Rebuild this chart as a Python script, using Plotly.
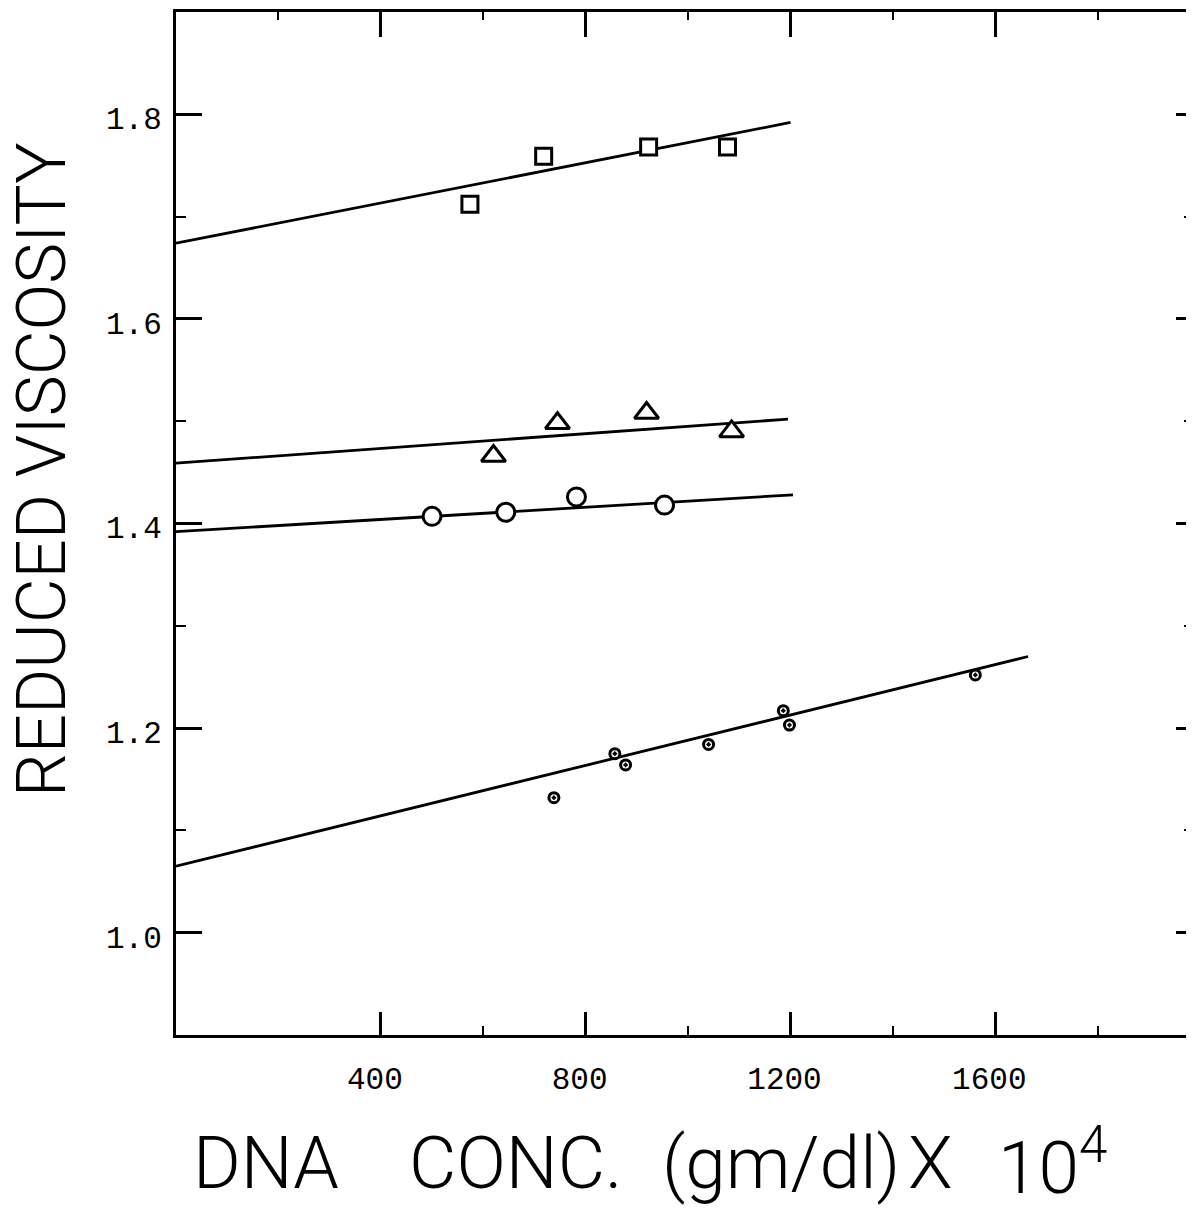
import plotly.graph_objects as go

# ---- data ----
sq_x = [574, 718, 923, 1077]
sq_y = [1.712, 1.759, 1.768, 1.768]
sq_fit_x = [0, 1200]
sq_fit_y = [1.674, 1.792]

tri_x = [620, 745, 919, 1085]
tri_y = [1.466, 1.498, 1.508, 1.490]
tri_fit_x = [0, 1195]
tri_fit_y = [1.459, 1.502]

circ_x = [500, 644, 782, 954]
circ_y = [1.407, 1.411, 1.426, 1.418]
circ_fit_x = [0, 1205]
circ_fit_y = [1.392, 1.428]

dot_x = [738, 857, 878, 1040, 1186, 1198, 1561]
dot_y = [1.132, 1.175, 1.164, 1.184, 1.217, 1.203, 1.252]
dot_fit_x = [0, 1664]
dot_fit_y = [1.065, 1.270]

x_major = [400, 800, 1200, 1600]
x_minor_bottom = [600, 1000, 1400, 1800]
x_minor_top = [200, 600, 1000, 1400, 1800]
y_major = [1.0, 1.2, 1.4, 1.6, 1.8]
y_major_text = ["1.0", "1.2", "1.4", "1.6", "1.8"]
y_minor = [1.1, 1.3, 1.5, 1.7]

x_title_parts = ["DNA", "CONC.", "(gm/dl)", "X", "10<sup>4</sup>"]
y_title = "REDUCED VISCOSITY"

X_RANGE = [0, 1988]
Y_RANGE = [0.9, 1.9]

OFF = 8  # page body margin of the html page
W, H = 1194 - OFF, 1211 - OFF
ML, MT = 176 - OFF, 12 - OFF
PLOT_BOTTOM = 1035 - OFF
MB = H - PLOT_BOTTOM
PW = W - ML
PH = H - MT - MB


def px_x(p):
    return (p - OFF - ML) / PW


def px_y(p):
    return (PLOT_BOTTOM - (p - OFF)) / PH


fig = go.Figure()

line_style = dict(color="black", width=2.8)

for fx, fy in [(sq_fit_x, sq_fit_y), (tri_fit_x, tri_fit_y),
               (circ_fit_x, circ_fit_y), (dot_fit_x, dot_fit_y)]:
    fig.add_trace(go.Scatter(x=fx, y=fy, mode="lines", line=line_style,
                             showlegend=False, hoverinfo="skip"))

fig.add_trace(go.Scatter(x=sq_x, y=sq_y, mode="markers", showlegend=False,
                         marker=dict(symbol="square", size=16, color="white",
                                     line=dict(color="black", width=3))))
fig.add_trace(go.Scatter(x=tri_x, y=tri_y, mode="markers", showlegend=False,
                         marker=dict(symbol="triangle-up", size=21, color="white",
                                     line=dict(color="black", width=3))))
fig.add_trace(go.Scatter(x=circ_x, y=circ_y, mode="markers", showlegend=False,
                         marker=dict(symbol="circle", size=18, color="white",
                                     line=dict(color="black", width=3))))
fig.add_trace(go.Scatter(x=dot_x, y=dot_y, mode="markers", showlegend=False,
                         marker=dict(symbol="circle-dot", size=10, color="white",
                                     line=dict(color="black", width=3))))

# invisible trace to bind the mirror axes
fig.add_trace(go.Scatter(x=[X_RANGE[0]], y=[Y_RANGE[0]], xaxis="x2", yaxis="y2",
                         mode="markers", marker=dict(opacity=0), showlegend=False,
                         hoverinfo="skip"))

tick_font = dict(family="Liberation Mono", size=31, color="black")
title_font = dict(family="Roboto", size=73, color="black", weight=300)

x_title_center = [266, 516, 781, 930, 1052]
annotations = [
    dict(text=y_title, textangle=-90,
         xref="paper", yref="paper", x=px_x(41), y=px_y(470),
         xanchor="center", yanchor="middle", showarrow=False,
         font=dict(family="Roboto", size=69, color="black", weight=300)),
]
for txt, cx in zip(x_title_parts, x_title_center):
    annotations.append(dict(text=txt, xref="paper", yref="paper",
                            x=px_x(cx), y=px_y(1163),
                            xanchor="center", yanchor="middle", showarrow=False,
                            font=title_font))

fig.update_layout(
    width=W, height=H,
    margin=dict(l=ML, r=0, t=MT, b=MB, autoexpand=False),
    paper_bgcolor="white", plot_bgcolor="white",
    xaxis=dict(range=X_RANGE, showgrid=False, zeroline=False, automargin=False,
               showline=True, linewidth=3, linecolor="black",
               ticks="inside", ticklen=23, tickwidth=3, tickcolor="black",
               tickvals=x_major, ticktext=[str(v) for v in x_major],
               tickfont=tick_font, ticklabelstandoff=14, ticklabelshift=-6,
               minor=dict(tickvals=x_minor_bottom, ticks="inside", ticklen=9,
                          tickwidth=2, tickcolor="black", showgrid=False)),
    xaxis2=dict(range=X_RANGE, overlaying="x", side="top", anchor="y",
                showgrid=False, zeroline=False, automargin=False,
                showline=True, linewidth=3, linecolor="black",
                ticks="inside", ticklen=25, tickwidth=2.5, tickcolor="black",
                tickvals=x_major, showticklabels=False,
                minor=dict(tickvals=x_minor_top, ticks="inside", ticklen=8,
                           tickwidth=2, tickcolor="black", showgrid=False)),
    yaxis=dict(range=Y_RANGE, showgrid=False, zeroline=False, automargin=False,
               showline=True, linewidth=3, linecolor="black",
               ticks="inside", ticklen=26, tickwidth=2.5, tickcolor="black",
               tickvals=y_major, ticktext=y_major_text,
               tickfont=tick_font, ticklabelstandoff=5, ticklabelshift=4,
               minor=dict(tickvals=y_minor, ticks="inside", ticklen=10,
                          tickwidth=2, tickcolor="black", showgrid=False)),
    yaxis2=dict(range=Y_RANGE, overlaying="y", side="right", anchor="x",
                showgrid=False, zeroline=False, showline=False, automargin=False,
                ticks="inside", ticklen=18, tickwidth=2.5, tickcolor="black",
                tickvals=y_major, showticklabels=False,
                minor=dict(tickvals=y_minor, ticks="inside", ticklen=10,
                           tickwidth=2, tickcolor="black", showgrid=False)),
    annotations=annotations,
)

fig.write_html("out.html")
